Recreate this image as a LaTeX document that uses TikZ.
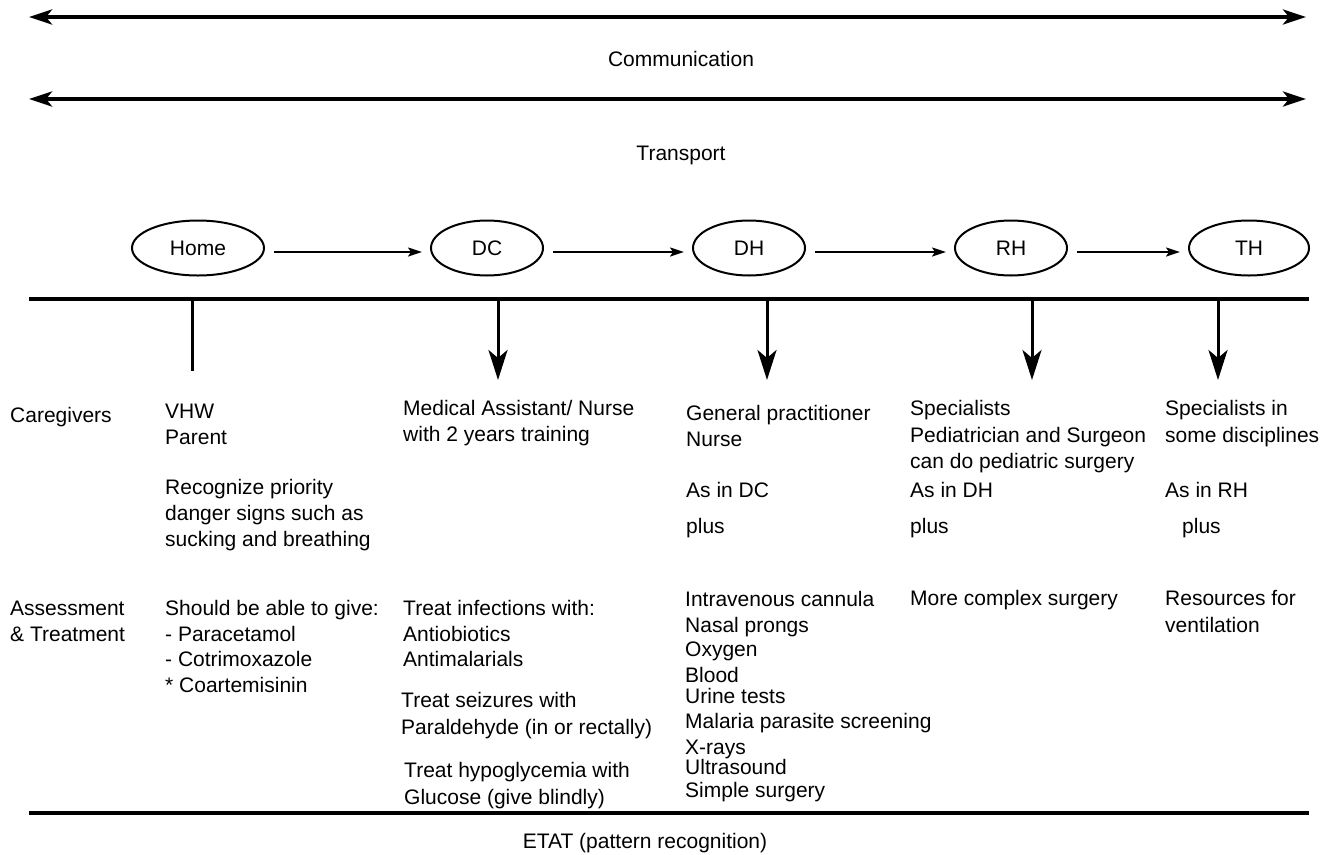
\documentclass[tikz,border=0pt]{standalone}
\usepackage{fontspec}
\setmainfont{Liberation Sans}
\usetikzlibrary{arrows.meta,shapes.geometric}
\begin{document}
\begin{tikzpicture}[x=1pt,y=-1pt,
  txt/.style={anchor=north west, inner sep=0pt, align=left, font=\fontsize{21}{#1}\selectfont},
  txt/.default=26,
  ctr/.style={anchor=base, inner sep=0pt, font=\fontsize{21}{26}\selectfont},
  el/.style={ellipse, draw, line width=2pt, minimum height=55pt, inner sep=0pt, font=\fontsize{21}{26}\selectfont},
  bigarrow/.style={line width=4pt, {Stealth[length=23pt,width=15pt,inset=6pt]}-{Stealth[length=23pt,width=15pt,inset=6pt]}},
  downarrow/.style={line width=3pt, -{Stealth[length=30pt,width=19pt,inset=8pt]}},
  smallarrow/.style={line width=2pt, -{Stealth[length=14pt,width=9pt,inset=3pt]}, shorten <=9pt, shorten >=8pt},
  rule/.style={line width=3.5pt}
]
\useasboundingbox (0,0) rectangle (1337,854);

% top arrows
\coordinate (cL) at (29,17);
\coordinate (cR) at (1306,17);
\draw[bigarrow] (cL) -- (cR);
\node[ctr] (comm) at (681,66.5) {Communication};
\coordinate (tL) at (29,99);
\coordinate (tR) at (1306,99);
\draw[bigarrow] (tL) -- (tR);
\node[ctr] (trans) at (681,160.5) {Transport};

% levels
\node[el, minimum width=132pt] (home) at (198,248) {Home};
\node[el, minimum width=112pt] (dc) at (487,248) {DC};
\node[el, minimum width=112pt] (dh) at (749,248) {DH};
\node[el, minimum width=112pt] (rh) at (1011,248) {RH};
\node[el, minimum width=120pt] (th) at (1249,248) {TH};
\draw[smallarrow] ([yshift=-4pt]home.east) -- ([yshift=-4pt]dc.west);
\draw[smallarrow] ([yshift=-4pt]dc.east) -- ([yshift=-4pt]dh.west);
\draw[smallarrow] ([yshift=-4pt]dh.east) -- ([yshift=-4pt]rh.west);
\draw[smallarrow] ([yshift=-4pt]rh.east) -- ([yshift=-4pt]th.west);

% main horizontal rule
\coordinate (hL) at (29,299);
\coordinate (hR) at (1309,299);
\draw[rule] (hL) -- (hR);

% verticals
\coordinate (homeA) at (192,299);
\coordinate (homeB) at (192,371);
\draw[line width=3pt] (homeA) -- (homeB);
\coordinate (dcA) at (498,299);
\coordinate (dcB) at (498,380);
\draw[downarrow] (dcA) -- (dcB);
\coordinate (dhA) at (767,299);
\coordinate (dhB) at (767,380);
\draw[downarrow] (dhA) -- (dhB);
\coordinate (rhA) at (1032,299);
\coordinate (rhB) at (1032,380);
\draw[downarrow] (rhA) -- (rhB);
\coordinate (thA) at (1218,299);
\coordinate (thB) at (1218,380);
\draw[downarrow] (thA) -- (thB);

% row labels
\node[txt] (cg) at (10,407.5) {Caregivers};
\node[txt] (as) at (10,600.5) {Assessment\\\& Treatment};

% Home column
\node[txt] (vhw) at (165,403.5) {VHW\\Parent};
\node[txt] (rec) at (165,479.5) {Recognize priority\\danger signs such as\\sucking and breathing};
\node[txt=25.5] (give) at (165,600.5) {Should be able to give:\\- Paracetamol\\- Cotrimoxazole\\* Coartemisinin};

% DC column
\node[txt=25.5] (ma) at (403,400.5) {Medical Assistant/ Nurse\\with 2 years training};
\node[txt=25.5] (inf) at (403,600.5) {Treat infections with:\\Antiobiotics\\Antimalarials};
\node[txt=27] (sei) at (401,692.5) {Treat seizures with\\Paraldehyde (in or rectally)};
\node[txt=27] (hyp) at (404,762.5) {Treat hypoglycemia with\\Glucose (give blindly)};

% DH column
\node[txt] (gp) at (686,405.5) {General practitioner\\Nurse};
\node[txt] (asdc) at (686,482.5) {As in DC};
\node[txt] (plus1) at (686,518.5) {plus};
\node[txt=24] (dhlist) at (685,591.5) {Intravenous cannula\\[2pt]Nasal prongs\\Oxygen\\[2pt]Blood\\[-3pt]Urine tests\\[1pt]Malaria parasite screening\\[2pt]X-rays\\[-4pt]Ultrasound\\[-1pt]Simple surgery};

% RH column
\node[txt=26.5] (spec) at (910,400.5) {Specialists\\Pediatrician and Surgeon\\can do pediatric surgery};
\node[txt] (asdh) at (910,482.5) {As in DH};
\node[txt] (plus2) at (910,518.5) {plus};
\node[txt] (mcs) at (910,590.5) {More complex surgery};

% TH column
\node[txt=27] (spin) at (1165,400.5) {Specialists in\\some disciplines};
\node[txt] (asrh) at (1165,482.5) {As in RH};
\node[txt] (plus3) at (1182,518.5) {plus};
\node[txt=27] (res) at (1165,590.5) {Resources for\\ventilation};

% bottom rule
\coordinate (bL) at (29,813);
\coordinate (bR) at (1309,813);
\draw[rule] (bL) -- (bR);
\node[ctr] (etat) at (645,848) {ETAT (pattern recognition)};
\end{tikzpicture}
\end{document}
